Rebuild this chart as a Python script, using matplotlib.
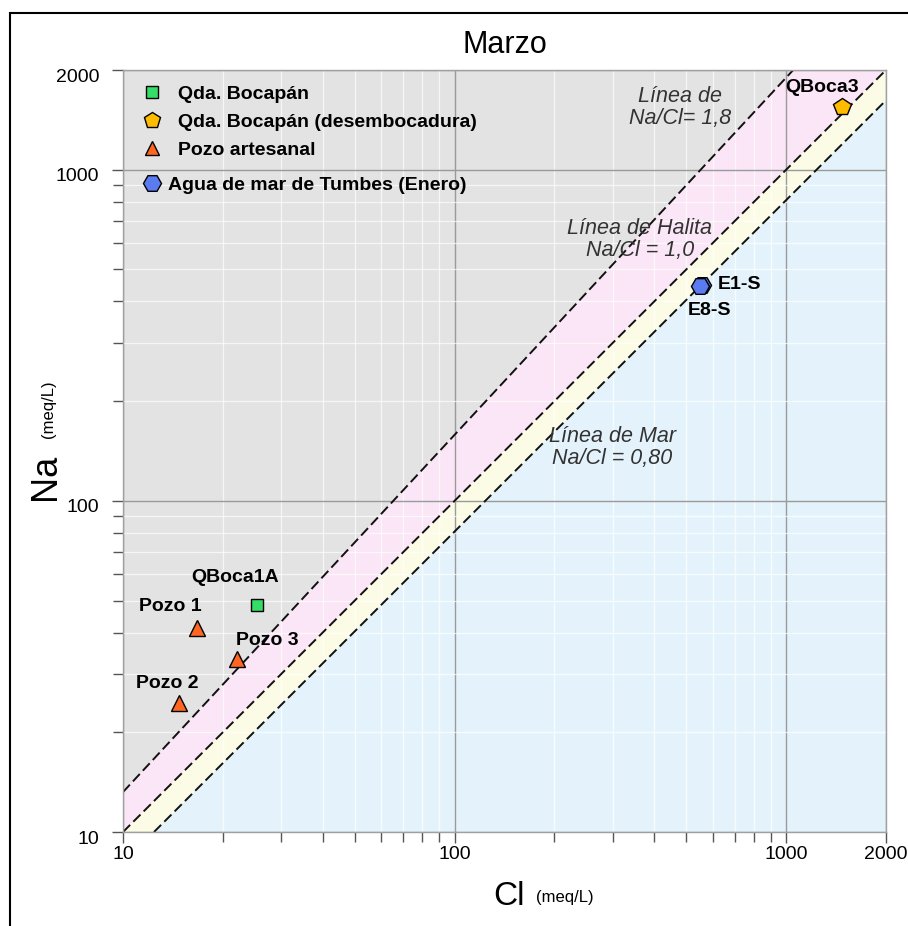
import numpy as np
import matplotlib.pyplot as plt
import matplotlib.transforms as mtransforms
from matplotlib.lines import Line2D
from matplotlib.patches import Rectangle
from matplotlib.ticker import FixedLocator, NullFormatter

plt.rcParams['font.family'] = ['Liberation Sans', 'DejaVu Sans']

# -----------------------------------------------------------------------------
# data (meq/L)

cl_lim = [10, 2000]
na_lim = [10, 2000]
major_ticks = [10, 100, 1000, 2000]
major_labels = ['10', '100', '1000', '2000']

# reference lines as (Cl, Na) endpoints
line_18_cl = [10, 1050]
line_18_na = [13.2, 2000]
line_10_cl = [10, 2000]
line_10_na = [10, 2000]
line_08_cl = [12.4, 2000]
line_08_na = [10, 1620]

bocapan_names = ['QBoca1A']
bocapan_cl = [25.4]
bocapan_na = [48.5]

desemb_names = ['QBoca3']
desemb_cl = [1470]
desemb_na = [1550]

pozo_names = ['Pozo 1', 'Pozo 2', 'Pozo 3']
pozo_cl = [16.7, 14.8, 22.1]
pozo_na = [41.3, 24.5, 33.3]

mar_names = ['E1-S', 'E8-S']
mar_cl = [556, 548]
mar_na = [449, 446]

# -----------------------------------------------------------------------------

W, H = 908, 926
fig = plt.figure(figsize=(W / 100, H / 100), dpi=100)
ax = fig.add_axes([123 / W, 1 - 832 / H, (886 - 123) / W, (832 - 70) / H])
ax.set_xscale('log')
ax.set_yscale('log')
ax.set_xlim(cl_lim)
ax.set_ylim(na_lim)

# coloured zones between the ratio lines
x0, x1 = cl_lim
y0, y1 = na_lim
ax.fill([line_18_cl[0], line_18_cl[1], x0], [line_18_na[0], line_18_na[1], y1],
        color='#e3e3e3', lw=0, zorder=0)
ax.fill([line_18_cl[0], line_18_cl[1], x1, line_10_cl[0]],
        [line_18_na[0], line_18_na[1], y1, line_10_na[0]],
        color='#fbe6f7', lw=0, zorder=0)
ax.fill([line_10_cl[0], line_10_cl[1], line_08_cl[1], line_08_cl[0]],
        [line_10_na[0], line_10_na[1], line_08_na[1], line_08_na[0]],
        color='#fcfce6', lw=0, zorder=0)
ax.fill([line_08_cl[0], line_08_cl[1], x1], [line_08_na[0], line_08_na[1], y0],
        color='#e4f3fb', lw=0, zorder=0)

# ticks and grid
minor_ticks = [v * d for d in (10, 100) for v in range(2, 10)]
ax.xaxis.set_major_locator(FixedLocator(major_ticks))
ax.yaxis.set_major_locator(FixedLocator(major_ticks))
ax.set_xticklabels(major_labels)
ax.set_yticklabels(major_labels)
ax.xaxis.set_minor_locator(FixedLocator(minor_ticks))
ax.yaxis.set_minor_locator(FixedLocator(minor_ticks))
ax.xaxis.set_minor_formatter(NullFormatter())
ax.yaxis.set_minor_formatter(NullFormatter())
ax.set_axisbelow(True)
ax.grid(which='minor', color='white', lw=0.9, alpha=0.7, zorder=0.5)
ax.grid(which='major', color='#9a9a9a', lw=1.0, zorder=0.6)

for s in ax.spines.values():
    s.set_color('#a0a0a0')
    s.set_linewidth(1.0)
ax.tick_params(which='both', direction='out', color='#555555', width=1.0, labelsize=14)
ax.tick_params(which='major', length=8)
ax.tick_params(which='minor', length=7)
ax.tick_params(axis='x', pad=2)
ax.tick_params(axis='y', pad=9)
shift_down = mtransforms.ScaledTranslation(0, -5 / 100, fig.dpi_scale_trans)
for lab in ax.get_yticklabels():
    lab.set_transform(lab.get_transform() + shift_down)

# ratio lines
for xs, ys in [(line_18_cl, line_18_na), (line_10_cl, line_10_na),
               (line_08_cl, line_08_na)]:
    ax.plot(xs, ys, color='#111111', lw=1.4, ls=(0, (5.2, 2.3)), zorder=2)

# points
ax.plot(bocapan_cl, bocapan_na, 's', ms=9, mfc='#33dd66', mec='black', mew=1, ls='none', zorder=4)
ax.plot(desemb_cl, desemb_na, 'p', ms=13, mfc='#ffbb00', mec='black', mew=1, ls='none', zorder=4)
ax.plot(pozo_cl, pozo_na, '^', ms=11, mfc='#ff6622', mec='black', mew=1, ls='none', zorder=4)
ax.plot(mar_cl, mar_na, 'H', ms=13, mfc='#5b7cf0', mec='black', mew=1, ls='none', zorder=4)

# point labels (pixel offsets)
label_offsets = {
    'QBoca1A': (-22, 27), 'Pozo 1': (-27, 22), 'Pozo 2': (-12, 20),
    'Pozo 3': (30, 18), 'QBoca3': (-20, 19), 'E1-S': (38, 0), 'E8-S': (10, -25),
}
for names, xs, ys in [(bocapan_names, bocapan_cl, bocapan_na),
                      (desemb_names, desemb_cl, desemb_na),
                      (pozo_names, pozo_cl, pozo_na),
                      (mar_names, mar_cl, mar_na)]:
    for n, xv, yv in zip(names, xs, ys):
        ax.annotate(n, (xv, yv), xytext=label_offsets[n], textcoords='offset pixels',
                    ha='center', va='center', fontsize=14, fontweight='bold', zorder=5)

# line captions
cap = dict(ha='center', va='center', fontsize=15.5, style='italic', color='#333333',
           linespacing=1.05)
ax.text(479, 1538, 'Línea de\nNa/Cl= 1,8', **cap)
ax.text(362, 615, 'Línea de Halita\nNa/Cl = 1,0', **cap)
ax.text(299, 145, 'Línea de Mar\nNa/Cl = 0,80', **cap)

# legend
h1 = [Line2D([], [], marker='s', ms=9, mfc='#33dd66', mec='black', ls='none'),
      Line2D([], [], marker='p', ms=12, mfc='#ffbb00', mec='black', ls='none'),
      Line2D([], [], marker='^', ms=10, mfc='#ff6622', mec='black', ls='none')]
leg1 = ax.legend(h1, ['Qda. Bocapán', 'Qda. Bocapán (desembocadura)', 'Pozo artesanal'],
                 loc='upper left', bbox_to_anchor=(0.019, 0.9797), frameon=False,
                 borderpad=0, borderaxespad=0, handlelength=1.5, handletextpad=0.59,
                 labelspacing=0.53, prop={'size': 14, 'weight': 'bold'})
ax.add_artist(leg1)
h2 = [Line2D([], [], marker='H', ms=13, mfc='#5b7cf0', mec='black', ls='none')]
ax.legend(h2, ['Agua de mar de Tumbes (Enero)'], loc='upper left',
          bbox_to_anchor=(0.0253, 0.8602), frameon=False, borderpad=0, borderaxespad=0,
          handlelength=1.0, handletextpad=0.33, prop={'size': 14, 'weight': 'bold'})

# title and axis labels
fig.text(505 / W, 1 - 45 / H, 'Marzo', ha='center', va='center', fontsize=22)
fig.text(55 / W, 1 - 477 / H, 'Na', rotation=90, rotation_mode='anchor',
         ha='center', va='baseline', fontsize=26)
fig.text(53 / W, 1 - 409 / H, '(meq/L)', rotation=90, rotation_mode='anchor',
         ha='center', va='baseline', fontsize=12)
fig.text(509 / W, 1 - 905 / H, 'Cl', ha='center', va='baseline', fontsize=24)
fig.text(565 / W, 1 - 902 / H, '(meq/L)', ha='center', va='baseline', fontsize=12)

# outer frame
fig.add_artist(Rectangle((9.5 / W, -0.1), 1.5, 1 - 13 / H + 0.1, transform=fig.transFigure,
                         fill=False, ec='black', lw=1.5, clip_on=False))

fig.savefig('out.png', dpi=100)
